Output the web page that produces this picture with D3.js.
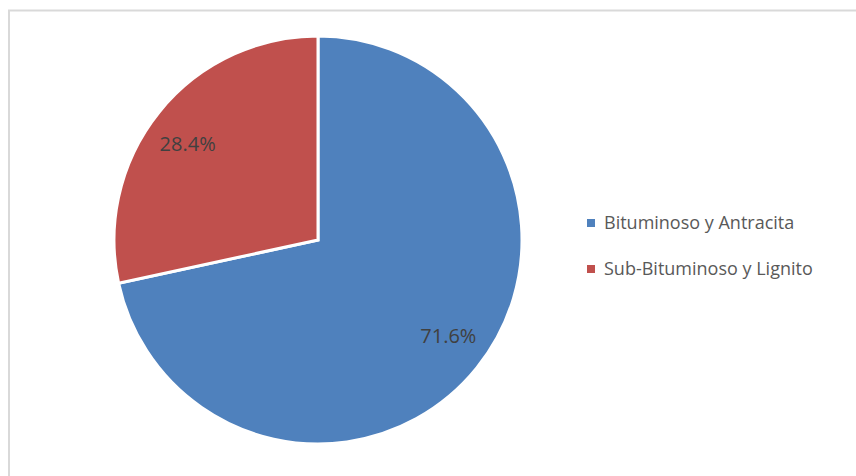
<!DOCTYPE html>
<html lang="es">
<head>
<meta charset="UTF-8">
<title>Carbón por tipo</title>
<style>
    body { margin: 0; background: #fff; }
    .label { font: 20px "Open Sans", sans-serif; fill: #404040; }
    .legend text { font: 18px "Open Sans", sans-serif; fill: #595959; }
</style>
</head>
<body>
<script src="https://cdn.jsdelivr.net/npm/d3@7"></script>
<script>
    const categories = ["Bituminoso y Antracita", "Sub-Bituminoso y Lignito"];
    const shares = [71.6, 28.4];
    const colors = ["#4f81bd", "#c0504d"];

    const width = 856, height = 476;
    const cx = 318, cy = 240, radius = 204;

    const svg = d3.select("body").append("svg")
        .attr("width", width)
        .attr("height", height);

    // chart frame (right/bottom edges fall outside the picture)
    svg.append("rect")
        .attr("x", 9).attr("y", 10.5)
        .attr("width", 900).attr("height", 500)
        .attr("fill", "none")
        .attr("stroke", "#d9d9d9")
        .attr("stroke-width", 2);

    const data = categories.map((c, i) => ({name: c, value: shares[i], color: colors[i]}));

    const pie = d3.pie().sort(null).value(d => d.value);
    const arc = d3.arc().innerRadius(0).outerRadius(radius);
    const labelArc = d3.arc().innerRadius(161).outerRadius(161);

    const g = svg.append("g").attr("transform", `translate(${cx},${cy})`);

    const arcs = pie(data);

    g.selectAll("path")
        .data(arcs)
        .join("path")
        .attr("d", arc)
        .attr("fill", d => d.data.color)
        .attr("stroke", "#fff")
        .attr("stroke-width", 3)
        .attr("stroke-linejoin", "miter");

    // excel nudges the labels a bit off the mid angle
    g.selectAll("text")
        .data(arcs)
        .join("text")
        .attr("class", "label")
        .attr("transform", d => {
            const [x, y] = labelArc.centroid(d);
            return `translate(${x + Math.sign(x) * 5},${y - Math.sign(y) * 5})`;
        })
        .attr("text-anchor", "middle")
        .attr("dy", "0.35em")
        .text(d => d.data.value.toFixed(1) + "%");

    const legend = svg.append("g").attr("class", "legend")
        .attr("transform", "translate(587,218)");

    const item = legend.selectAll("g")
        .data(data)
        .join("g")
        .attr("transform", (d, i) => `translate(0,${i * 46})`);

    item.append("rect")
        .attr("width", 8).attr("height", 8)
        .attr("y", 1)
        .attr("fill", d => d.color);

    item.append("text")
        .attr("x", 17)
        .attr("y", 5)
        .attr("dy", "0.35em")
        .text(d => d.name);
</script>
</body>
</html>
